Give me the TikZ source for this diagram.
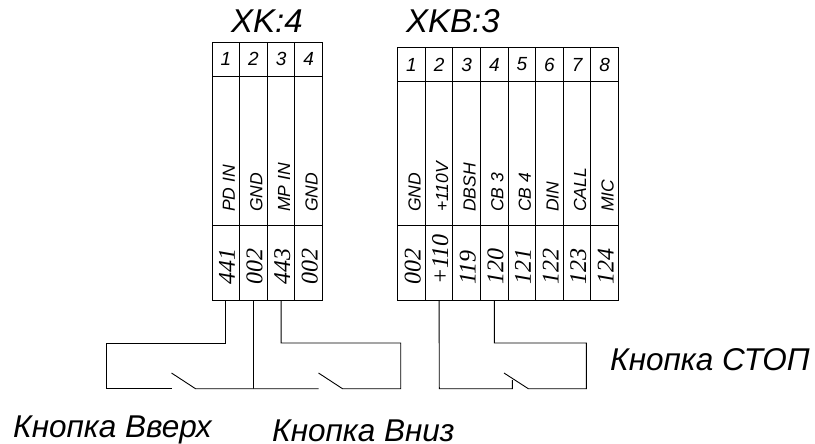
\documentclass[tikz,border=0pt]{standalone}
\usepackage{fontspec}
\setmainfont{Liberation Sans}
\newfontfamily\numfont{Liberation Serif}
\tikzset{
  wire/.style={line width=0.9pt,line join=miter},
  cell/.style={draw,line width=0.9pt,inner sep=0pt,outer sep=0pt,minimum width=27.6pt},
  headcell/.style={cell,minimum height=33.5pt,font=\fontsize{19}{19}\selectfont\itshape},
  namecell/.style={cell,minimum height=149pt},
  numcell/.style={cell,minimum height=75pt},
  pinname/.style={rotate=90,anchor=base west,inner sep=0pt,font=\fontsize{17.5}{17.5}\selectfont\itshape},
  pinnum/.style={rotate=90,anchor=base west,inner sep=0pt,font=\fontsize{24}{24}\selectfont\numfont\itshape},
  title/.style={inner sep=0pt,anchor=base west,font=\fontsize{33}{33}\selectfont\itshape},
  caption/.style={inner sep=0pt,anchor=base west,font=\fontsize{31.5}{31.5}\selectfont\itshape},
}
\begin{document}
\begin{tikzpicture}[x=1pt,y=-1pt]
\useasboundingbox (0,0) rectangle (815,444);
\node[title] (xk) at (231,32.5) {XK:4};
\node[title] (xkb) at (406,32.5) {XKB:3};
% XK:4
\foreach \i/\nm/\nu in {1/PD IN/441,2/GND/002,3/MP IN/443,4/GND/002}{
  \pgfmathsetmacro\cx{225.85+27.6*(\i-1)}
  \node[headcell] (ka\i) at (\cx,59.25) {\i};
  \node[namecell] (kb\i) at (\cx,150.5) {};
  \node[numcell] (kc\i) at (\cx,262.5) {};
  \node[pinname] (kn\i) at (\cx+9,212) {\nm};
  \node[pinnum] (kv\i) at (\cx+9,285) {\nu};
}
% XKB:3
\foreach \i/\nm/\nu in {1/GND/002,2/+110V/+110,3/DBSH/119,4/CB 3/120,5/CB 4/121,6/DIN/122,7/CALL/123,8/MIC/124}{
  \pgfmathsetmacro\cx{411.5+27.6*(\i-1)}
  \node[headcell] (ba\i) at (\cx,64.5) {\i};
  \node[namecell,minimum height=144pt] (bb\i) at (\cx,153) {};
  \node[numcell] (bc\i) at (\cx,262.5) {};
  \node[pinname] (bn\i) at (\cx+9,212) {\nm};
  \node[pinnum] (bv\i) at (\cx+9,285) {\nu};
}
% switches XK
\coordinate (ul) at (106.5,343);
\coordinate (ll) at (106.5,388.7);
\coordinate (s1a) at (171.5,388.7);
\coordinate (s1t) at (171.5,373);
\coordinate (s1b) at (195.5,388.7);
\coordinate (mid) at (253.5,388.7);
\coordinate (s2a) at (318.5,373);
\coordinate (s2b) at (342.5,388.7);
\coordinate (s2c) at (318.5,388.7);
\coordinate (ur) at (400.7,343);
\coordinate (lr) at (400.7,388.7);
\draw[wire] (kc1.south) |- (ul) -- (ll) -- (s1a);
\draw[wire] (s1t) -- (s1b) -- (s2c);
\draw[wire] (kc2.south) -- (mid);
\draw[wire] (kc3.south) |- (ur) -- (lr) -- (s2b) -- (s2a);
% switch XKB
\coordinate (p2b) at (439.3,388.7);
\coordinate (s3a) at (512.3,388.7);
\coordinate (s3k) at (512.3,380);
\coordinate (s3t) at (504,373);
\coordinate (s3b) at (528.3,388.7);
\coordinate (ur3) at (586.3,343);
\coordinate (lr3) at (586.3,388.7);
\draw[wire] (bc2.south) -- (p2b) -- (s3a) -- (s3k);
\draw[wire] (s3t) -- (s3b) -- (lr3) -- (ur3) -| (bc4.south);
\node[caption] (c1) at (13,437) {Кнопка Вверх};
\node[caption] (c2) at (272,441) {Кнопка Вниз};
\node[caption] (c3) at (610,370) {Кнопка СТОП};
\end{tikzpicture}
\end{document}
